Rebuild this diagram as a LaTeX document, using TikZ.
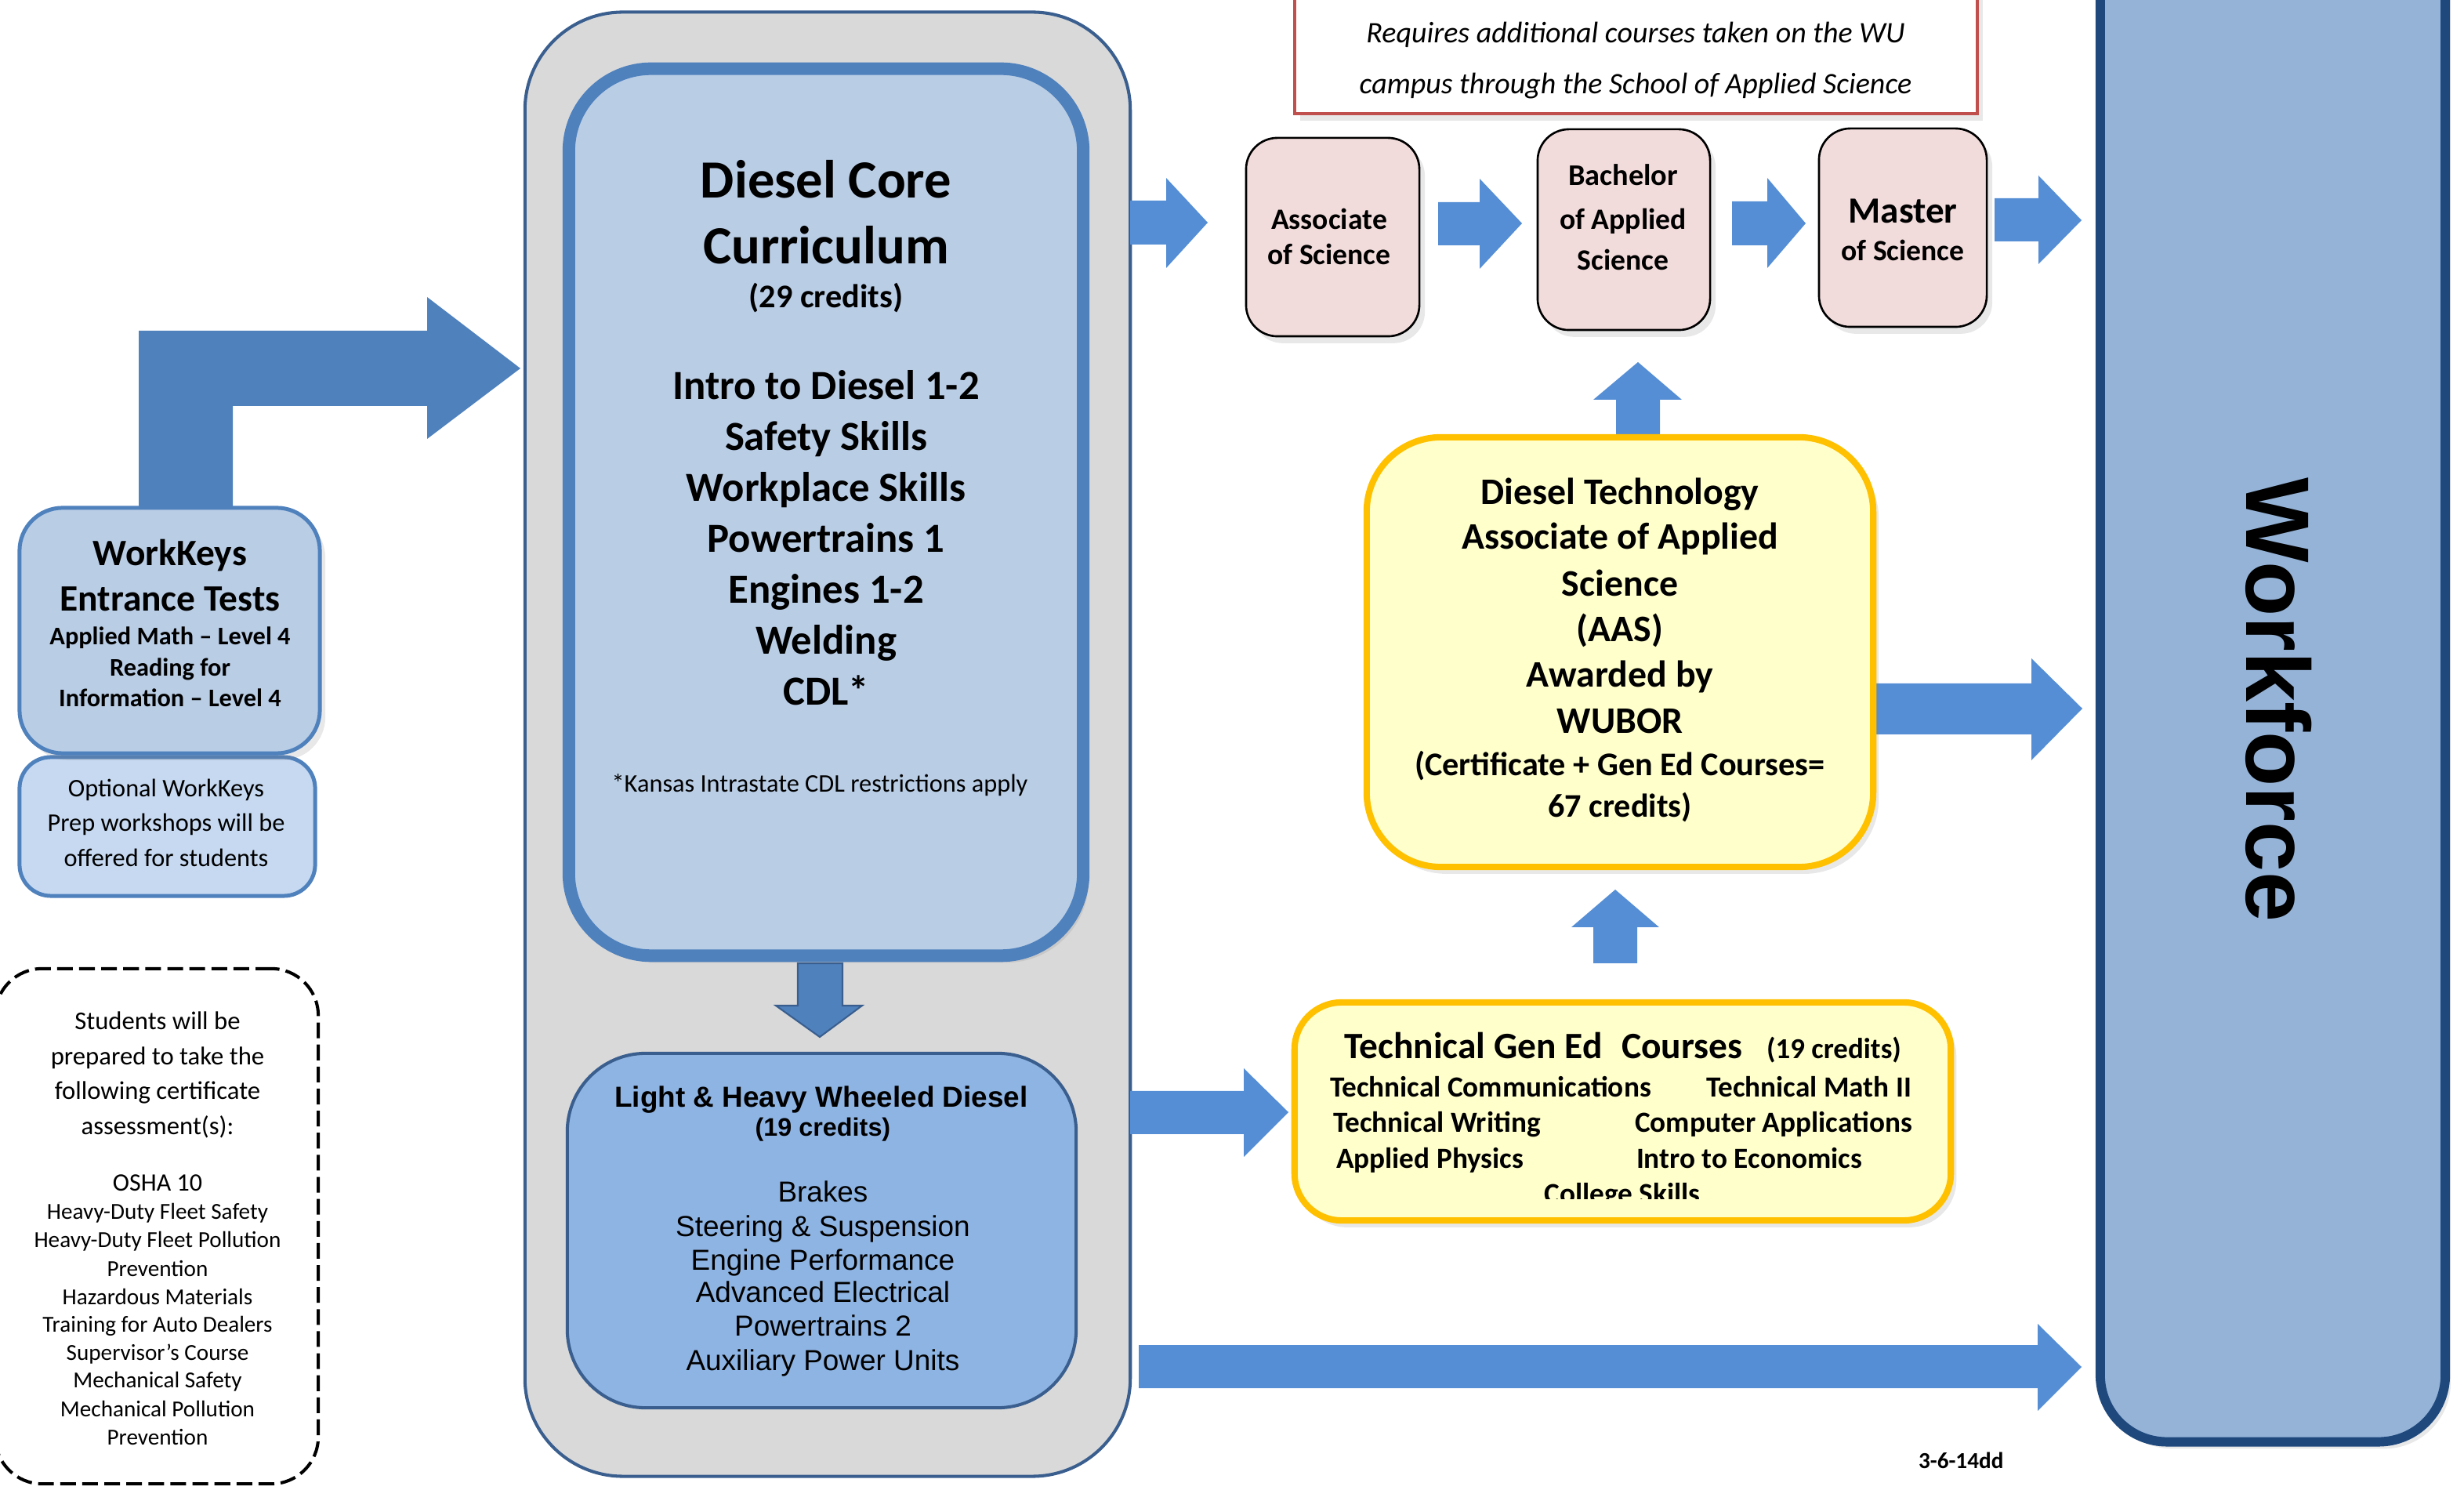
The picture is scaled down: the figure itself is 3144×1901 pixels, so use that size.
\documentclass[tikz,border=0pt]{standalone}
\usepackage{fontspec}
\setmainfont{Carlito}
\newfontfamily\arialf{Liberation Sans}
\usetikzlibrary{shadows}
\definecolor{grayfill}{HTML}{D9D9D9}
\definecolor{grayline}{HTML}{3A5F8F}
\definecolor{corefill}{HTML}{B9CDE5}
\definecolor{coreline}{HTML}{4F81BD}
\definecolor{lhfill}{HTML}{8EB4E3}
\definecolor{lhline}{HTML}{3A5F8F}
\definecolor{optfill}{HTML}{C6D9F1}
\definecolor{pinkfill}{HTML}{F2DCDB}
\definecolor{yelfill}{HTML}{FFFFCC}
\definecolor{yelline}{HTML}{FFC000}
\definecolor{wffill}{HTML}{95B3D7}
\definecolor{wfline}{HTML}{1F497D}
\definecolor{arrowblue}{HTML}{558ED5}
\definecolor{bentblue}{HTML}{4F81BD}
\definecolor{redline}{HTML}{C0504D}
\newcommand{\fsz}[1]{\fontsize{#1}{#1}\selectfont}
\begin{document}
\begin{tikzpicture}[x=0.01cm,y=-0.01cm,
  box/.style={rectangle, inner sep=0pt, outer sep=0pt},
  txt/.style={inner sep=0pt, outer sep=0pt, anchor=base},
  lt/.style={inner sep=0pt, outer sep=0pt, anchor=base west},
  arr/.style={fill=arrowblue},
  shd/.style={drop shadow={opacity=0.18, shadow xshift=2pt, shadow yshift=-2.5pt}},
  pink/.style={box, fill=pinkfill, draw=black, line width=0.75pt, rounded corners=0.4cm, shd},
  yel/.style={box, fill=yelfill, draw=yelline, line width=2.3pt, shd}
]
\useasboundingbox (0,0) rectangle (3144,1901);
\clip (0,0) rectangle (3144,1901);

% outer gray container
\node[box, fill=grayfill, draw=grayline, line width=1.15pt, rounded corners=1.25cm,
  minimum width=7.72cm, minimum height=18.67cm] (gray) at (1056,949.5) {};

% arrows leaving gray container
\fill[arr] (1442,256) -- (1488,256) -- (1488,227) -- (1541,284) -- (1488,342) -- (1488,312) -- (1442,312) -- cycle;
\fill[arr] (1442,1392) -- (1587,1392) -- (1587,1363) -- (1644,1419) -- (1587,1476) -- (1587,1447) -- (1442,1447) -- cycle;
\fill[arr] (1453,1716) -- (2600,1716) -- (2600,1689) -- (2656,1744) -- (2600,1800) -- (2600,1771) -- (1453,1771) -- cycle;

% core curriculum
\node[box, fill=corefill, draw=coreline, line width=4.55pt, rounded corners=1.05cm,
  minimum width=6.56cm, minimum height=11.31cm, shd] (core) at (1054,653.5) {};

% down arrow core -> light & heavy
\filldraw[fill=bentblue, draw=grayline, line width=0.6pt] (1018,1229) -- (1018,1283) -- (990,1283) -- (1046,1323) -- (1100,1283) -- (1075,1283) -- (1075,1229) -- cycle;

% light & heavy
\node[box, fill=lhfill, draw=lhline, line width=1.15pt, rounded corners=1.0cm,
  minimum width=6.49cm, minimum height=4.52cm] (lh) at (1048.5,1570) {};

% optional workkeys prep
\node[box, fill=optfill, draw=coreline, line width=1.42pt, rounded corners=0.4cm,
  minimum width=3.77cm, minimum height=1.77cm] (opt) at (213.5,1054.5) {};
% workkeys
\node[box, fill=corefill, draw=coreline, line width=1.42pt, rounded corners=0.55cm,
  minimum width=3.83cm, minimum height=3.13cm, shd] (wk) at (216.5,804.5) {};

% bent arrow workkeys -> core
\fill[bentblue] (177,646) -- (177,422) -- (545,422) -- (545,379) -- (664,470) -- (545,560) -- (545,518) -- (297,518) -- (297,646) -- cycle;

% dashed certificate box
\node[box, draw=black, line width=1.15pt, dash pattern=on 5.7pt off 2.3pt, rounded corners=0.6cm,
  minimum width=4.12cm, minimum height=6.57cm] (cert) at (200,1564.5) {};

% red note box
\node[box, fill=white, draw=redline, line width=1.15pt,
  minimum width=8.71cm, minimum height=1.65cm, shd] (note) at (2087.5,62.5) {};

% degree boxes
\node[pink, minimum width=2.21cm, minimum height=2.53cm] (as) at (1700.5,302.5) {};
\node[pink, minimum width=2.20cm, minimum height=2.56cm] (bas) at (2072,293) {};
\node[pink, minimum width=2.14cm, minimum height=2.53cm] (ms) at (2428,290.5) {};

\fill[arr] (1835,258) -- (1888,258) -- (1888,228) -- (1942,285) -- (1888,343) -- (1888,313) -- (1835,313) -- cycle;
\fill[arr] (2210,257) -- (2255,257) -- (2255,227) -- (2304,285) -- (2255,342) -- (2255,313) -- (2210,313) -- cycle;
\fill[arr] (2545,253) -- (2601,253) -- (2601,224) -- (2656,281) -- (2601,337) -- (2601,308) -- (2545,308) -- cycle;

% AAS arrows
\fill[arr] (2394,872) -- (2592,872) -- (2592,840) -- (2657,904) -- (2592,970) -- (2592,937) -- (2394,937) -- cycle;
\fill[arr] (2062,558) -- (2062,510) -- (2033,510) -- (2090,462) -- (2146,510) -- (2118,510) -- (2118,558) -- cycle;
\fill[arr] (2033,1229) -- (2033,1183) -- (2005,1183) -- (2061,1135) -- (2117,1183) -- (2089,1183) -- (2089,1229) -- cycle;

% AAS box
\node[yel, rounded corners=0.95cm, minimum width=6.46cm, minimum height=5.48cm] (aas) at (2067,832) {};
% Technical gen ed box
\node[yel, rounded corners=0.6cm, minimum width=8.37cm, minimum height=2.78cm] (tech) at (2070.5,1418) {};

% workforce
\node[box, fill=wffill, draw=wfline, line width=3.4pt, rounded corners=0.85cm,
  minimum width=4.40cm, minimum height=19.3cm, shd] (wf) at (2900,874) {};

% ---------- texts ----------
% core
\node[txt, font=\fsz{19.5}\bfseries] (c1) at (1054,253) {Diesel Core};
\node[txt, font=\fsz{19.5}\bfseries] (c2) at (1054,337) {Curriculum};
\node[txt, font=\fsz{12}\bfseries] (c3) at (1054,393) {(29 credits)};
\node[txt, font=\fsz{15}\bfseries] (c4) at (1054,510) {Intro to Diesel 1-2};
\node[txt, font=\fsz{15}\bfseries] (c5) at (1054,575) {Safety Skills};
\node[txt, font=\fsz{15}\bfseries] (c6) at (1054,640) {Workplace Skills};
\node[txt, font=\fsz{15}\bfseries] (c7) at (1054,705) {Powertrains 1};
\node[txt, font=\fsz{15}\bfseries] (c8) at (1054,770) {Engines 1-2};
\node[txt, font=\fsz{15}\bfseries] (c9) at (1054,835) {Welding};
\node[txt, font=\fsz{15}\bfseries] (c10) at (1054,900) {CDL*};
\node[txt, font=\fsz{9.2}] (c11) at (1046,1011) {*Kansas Intrastate CDL restrictions apply};

% light & heavy
\node[txt, font=\arialf\bfseries\fsz{10.5}] (l1) at (1048,1413) {Light \& Heavy Wheeled Diesel};
\node[txt, font=\arialf\bfseries\fsz{9.2}] (l2) at (1050,1449) {(19 credits)};
\node[txt, font=\arialf\fsz{10.5}] (l3) at (1050,1534) {Brakes};
\node[txt, font=\arialf\fsz{10.5}] (l4) at (1050,1577) {Steering \& Suspension};
\node[txt, font=\arialf\fsz{10.5}] (l5) at (1050,1620) {Engine Performance};
\node[txt, font=\arialf\fsz{10.5}] (l6) at (1050,1662) {Advanced Electrical};
\node[txt, font=\arialf\fsz{10.5}] (l7) at (1050,1705) {Powertrains 2};
\node[txt, font=\arialf\fsz{10.5}] (l8) at (1050,1748) {Auxiliary Power Units};

% workkeys
\node[txt, font=\fsz{13.5}\bfseries] (w1) at (217,722) {WorkKeys};
\node[txt, font=\fsz{13.5}\bfseries] (w2) at (217,780) {Entrance Tests};
\node[txt, font=\fsz{9.2}\bfseries] (w3) at (217,823) {Applied Math – Level 4};
\node[txt, font=\fsz{9.2}\bfseries] (w4) at (217,863) {Reading for};
\node[txt, font=\fsz{9.2}\bfseries] (w5) at (217,902) {Information – Level 4};

\node[txt, font=\fsz{9.2}] (o1) at (212,1017) {Optional WorkKeys};
\node[txt, font=\fsz{9.2}] (o2) at (212,1061) {Prep workshops will be};
\node[txt, font=\fsz{9.2}] (o3) at (212,1106) {offered for students};

% certificate list
\node[txt, font=\fsz{9.3}] (d1) at (201,1314) {Students will be};
\node[txt, font=\fsz{9.3}] (d2) at (201,1359) {prepared to take the};
\node[txt, font=\fsz{9.3}] (d3) at (201,1403) {following certificate};
\node[txt, font=\fsz{9.3}] (d4) at (201,1448) {assessment(s):};
\node[txt, font=\fsz{9.1}] (d5) at (201,1520) {OSHA 10};
\node[txt, font=\fsz{8.3}] (d6) at (201,1556) {Heavy-Duty Fleet Safety};
\node[txt, font=\fsz{8.3}] (d7) at (201,1592) {Heavy-Duty Fleet Pollution};
\node[txt, font=\fsz{8.3}] (d8) at (201,1628) {Prevention};
\node[txt, font=\fsz{8.3}] (d9) at (201,1664) {Hazardous Materials};
\node[txt, font=\fsz{8.3}] (d10) at (201,1699) {Training for Auto Dealers};
\node[txt, font=\fsz{8.3}] (d11) at (201,1735) {Supervisor’s Course};
\node[txt, font=\fsz{8.3}] (d12) at (201,1771) {Mechanical Safety};
\node[txt, font=\fsz{8.3}] (d13) at (201,1807) {Mechanical Pollution};
\node[txt, font=\fsz{8.3}] (d14) at (201,1843) {Prevention};

% note
\node[txt, font=\fsz{10.8}\itshape] (n1) at (2087,55) {Requires additional courses taken on the WU};
\node[txt, font=\fsz{10.8}\itshape] (n2) at (2087,120) {campus through the School of Applied Science};

% degrees
\node[txt, font=\fsz{10.7}\bfseries] (a1) at (1696,293) {Associate};
\node[txt, font=\fsz{10.7}\bfseries] (a2) at (1696,338) {of Science};
\node[txt, font=\fsz{10.9}\bfseries] (b1) at (2071,237) {Bachelor};
\node[txt, font=\fsz{10.7}\bfseries] (b2) at (2071,293) {of Applied};
\node[txt, font=\fsz{10.7}\bfseries] (b3) at (2071,345) {Science};
\node[txt, font=\fsz{13.4}\bfseries] (m1) at (2428,285) {Master};
\node[txt, font=\fsz{10.7}\bfseries] (m2) at (2428,333) {of Science};

% AAS text
\node[txt, font=\fsz{13.6}\bfseries] (s1) at (2067,644) {Diesel Technology};
\node[txt, font=\fsz{13.6}\bfseries] (s2) at (2067,701) {Associate of Applied};
\node[txt, font=\fsz{13.6}\bfseries] (s3) at (2067,761) {Science};
\node[txt, font=\fsz{13.6}\bfseries] (s4) at (2067,819) {(AAS)};
\node[txt, font=\fsz{13.6}\bfseries] (s5) at (2067,877) {Awarded by};
\node[txt, font=\fsz{13.6}\bfseries] (s6) at (2067,936) {WUBOR};
\node[txt, font=\fsz{12}\bfseries] (s7) at (2067,990) {(Certificate + Gen Ed Courses=};
\node[txt, font=\fsz{12}\bfseries] (s8) at (2067,1043) {67 credits)};

% technical gen ed text
\node[lt, font=\fsz{13.5}\bfseries] (t0) at (1715,1351) {Technical Gen Ed\hspace{0.52em}Courses};
\node[lt, font=\fsz{10.5}\bfseries] (t0b) at (2254,1351) {(19 credits)};
\node[lt, font=\fsz{10.6}\bfseries] (t1) at (1697,1400) {Technical Communications};
\node[lt, font=\fsz{10.6}\bfseries] (t2) at (2177,1400) {Technical Math II};
\node[lt, font=\fsz{10.6}\bfseries] (t3) at (1701,1445) {Technical Writing};
\node[lt, font=\fsz{10.6}\bfseries] (t4) at (2086,1445) {Computer Applications};
\node[lt, font=\fsz{10.6}\bfseries] (t5) at (1705,1491) {Applied Physics};
\node[lt, font=\fsz{10.6}\bfseries] (t6) at (2088,1491) {Intro to Economics};
\begin{scope}
  \clip (1700,1490) rectangle (2450,1530);
  \node[txt, font=\fsz{10.6}\bfseries] (t7) at (2070,1536) {College Skills};
\end{scope}

% date stamp
\node[lt, font=\fsz{8.3}\bfseries] (date) at (2448,1873) {3-6-14dd};

% workforce label
\node[inner sep=0pt, anchor=base west, rotate=-90, font=\arialf\bfseries\fsz{32.7}] (wft) at (2866,609) {Workforce};
\end{tikzpicture}
\end{document}
